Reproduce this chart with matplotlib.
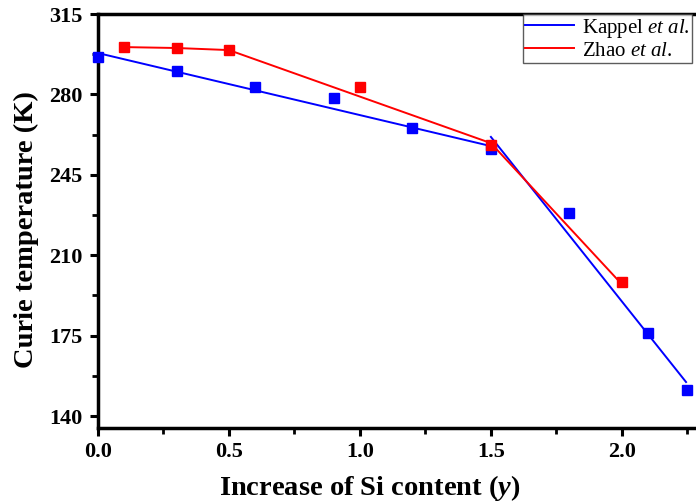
import matplotlib
matplotlib.use("Agg")
import matplotlib.pyplot as plt
from matplotlib.ticker import MultipleLocator
from matplotlib.lines import Line2D

# Data
kappel_x = [0.0, 0.3, 0.6, 0.9, 1.2, 1.5, 1.8, 2.1, 2.25]
kappel_y = [296.5, 290.2, 283.2, 278.4, 265.4, 256.2, 228.4, 176.1, 151.3]
kappel_fit1_x = [0.0, 1.5]
kappel_fit1_y = [298.0, 257.5]
kappel_fit2_x = [1.5, 2.245]
kappel_fit2_y = [261.5, 154.8]

zhao_x = [0.1, 0.3, 0.5, 1.0, 1.5, 2.0]
zhao_y = [300.6, 300.2, 299.3, 283.2, 258.0, 198.3]
zhao_line_x = [0.1, 0.3, 0.5, 1.5, 1.985]
zhao_line_y = [300.6, 300.2, 299.3, 258.8, 199.2]

yticks = [140, 175, 210, 245, 280, 315]
xticks = [0.0, 0.5, 1.0, 1.5, 2.0]

plt.rcParams['font.family'] = ['Liberation Serif', 'DejaVu Serif']
plt.rcParams['mathtext.fontset'] = 'custom'
plt.rcParams['mathtext.rm'] = 'Liberation Serif'
plt.rcParams['mathtext.it'] = 'Liberation Serif:italic'
plt.rcParams['mathtext.bf'] = 'Liberation Serif:bold'
plt.rcParams['mathtext.bfit'] = 'Liberation Serif:bold:italic'

fig = plt.figure(figsize=(6.96, 5.04), dpi=100)
ax = fig.add_axes([0.1408, 0.1508, 0.8592, 0.8214])

blue = '#0000ff'
red = '#ff0000'

ax.plot(kappel_fit1_x, kappel_fit1_y, color=blue, lw=1.4, zorder=2)
ax.plot(kappel_fit2_x, kappel_fit2_y, color=blue, lw=1.4, zorder=2)
ax.plot(zhao_line_x, zhao_line_y, color=red, lw=1.4, zorder=2)
ax.plot(kappel_x, kappel_y, 's', color=blue, ms=6.5, mec=blue, zorder=3, clip_on=False)
ax.plot(zhao_x, zhao_y, 's', color=red, ms=6.5, mec=red, zorder=4, clip_on=False)

ax.set_xlim(0, 2.283)
ax.set_ylim(134.8, 315)
ax.set_xticks(xticks)
ax.set_xticklabels([f"{v:.1f}" for v in xticks])
ax.set_yticks(yticks)
ax.xaxis.set_minor_locator(MultipleLocator(0.25))
ax.yaxis.set_minor_locator(MultipleLocator(17.5))

for s in ['left', 'bottom', 'top']:
    ax.spines[s].set_linewidth(2.5)
ax.spines['right'].set_visible(False)

ax.tick_params(axis='both', which='major', direction='out', length=6, width=2.2,
               labelsize=16, pad=5)
ax.tick_params(axis='x', which='major', pad=4)
ax.tick_params(axis='both', which='minor', direction='out', length=4, width=2.0)
for lab in ax.get_xticklabels() + ax.get_yticklabels():
    lab.set_fontweight('bold')

ax.set_ylabel('Curie temperature (K)', fontsize=20.5, fontweight='bold')
ax.set_xlabel('Increase of Si content ($\\mathbfit{y}$)', fontsize=20.5, fontweight='bold')
ax.xaxis.set_label_coords((370 - 99) / 597, -0.108)
ax.yaxis.set_label_coords(-0.099, (428 - 230) / 414)

handles = [Line2D([0], [0], color=blue, lw=1.4), Line2D([0], [0], color=red, lw=1.4)]
labels = ['Kappel $\\mathit{et\\ al.}$', 'Zhao $\\mathit{et\\ al.}$']
leg = ax.legend(handles, labels, loc='upper left', bbox_to_anchor=((523 - 99) / 597, 1.0),
                fontsize=15, frameon=True, fancybox=False, borderaxespad=0,
                handlelength=2.35, handletextpad=0.38, borderpad=0.12,
                labelspacing=0.08)
leg.get_frame().set_edgecolor('#333333')
leg.get_frame().set_linewidth(1.0)

fig.savefig('out.png', dpi=100)
